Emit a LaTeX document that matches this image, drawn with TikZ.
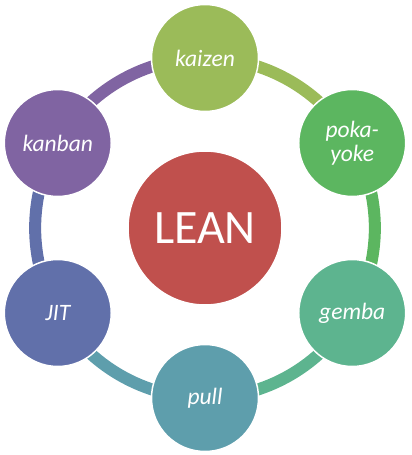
\documentclass[tikz,border=0pt]{standalone}
\usepackage{fontspec}
\setmainfont{Carlito}
\usetikzlibrary{backgrounds}

\definecolor{leanred}{RGB}{192,80,77}
\definecolor{kaizencol}{RGB}{155,187,89}
\definecolor{pokacol}{RGB}{92,182,96}
\definecolor{gembacol}{RGB}{93,180,143}
\definecolor{pullcol}{RGB}{94,158,172}
\definecolor{jitcol}{RGB}{97,112,170}
\definecolor{kanbancol}{RGB}{128,100,162}

\begin{document}
\begin{tikzpicture}[
    x=1pt, y=1pt,
    hub/.style={circle, fill=leanred, draw=white, line width=1.5pt, minimum size=154pt, inner sep=0pt, text=white, font=\fontsize{48}{52}\selectfont},
    spoke/.style={circle, draw=white, line width=1.5pt, minimum size=107pt, inner sep=0pt, text=white, align=center, font=\fontsize{23.5}{24}\selectfont\itshape},
    ring/.style={line width=12pt, bend left=30, looseness=0.91}
]
\useasboundingbox (-205,-227) rectangle (207,228);

% Centre and the six practices round it
\node[hub] (lean) at (0,0) {LEAN};
\node[spoke, fill=kaizencol] (kaizen) at (90:170) {kaizen};
\node[spoke, fill=pokacol] (poka) at (30:170) {poka-\\yoke};
\node[spoke, fill=gembacol] (gemba) at (-30:170) {gemba};
\node[spoke, fill=pullcol] (pull) at (-90:170) {pull};
\node[spoke, fill=jitcol] (jit) at (-150:170) {JIT};
\node[spoke, fill=kanbancol] (kanban) at (150:170) {kanban};

% Cycle arcs behind the circles
\begin{pgfonlayer}{background}
\draw[ring, draw=kaizencol] (kaizen.center) to (poka.center);
\draw[ring, draw=pokacol] (poka.center) to (gemba.center);
\draw[ring, draw=gembacol] (gemba.center) to (pull.center);
\draw[ring, draw=pullcol] (pull.center) to (jit.center);
\draw[ring, draw=jitcol] (jit.center) to (kanban.center);
\draw[ring, draw=kanbancol] (kanban.center) to (kaizen.center);
\end{pgfonlayer}

\end{tikzpicture}
\end{document}
